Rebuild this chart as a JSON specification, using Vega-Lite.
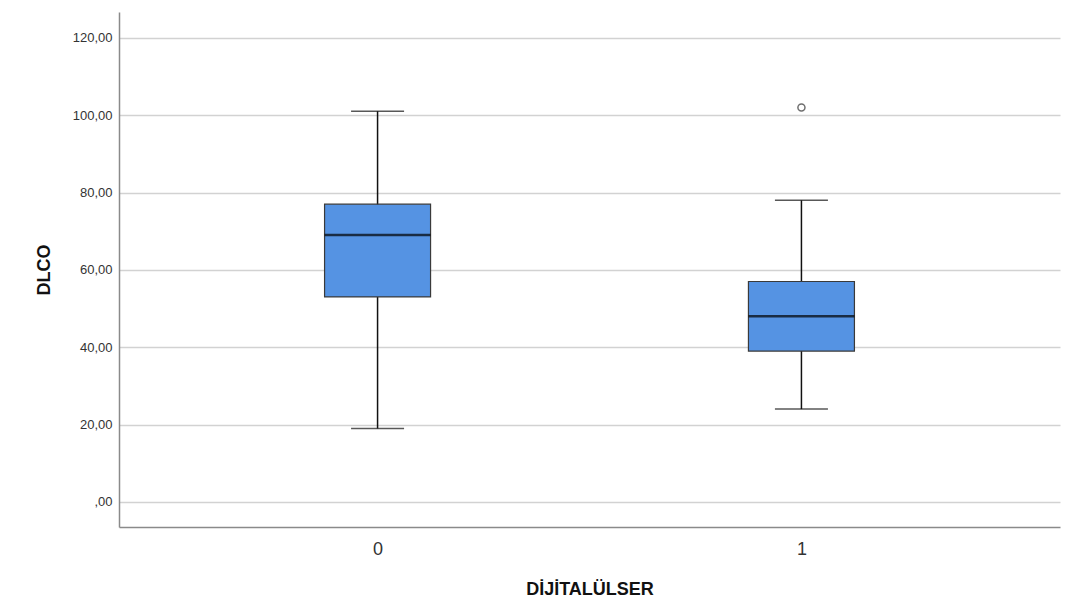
{
  "$schema": "https://vega.github.io/schema/vega-lite/v6.json",
  "width": 941,
  "height": 515,
  "autosize": {"type": "none"},
  "padding": {"left": 119, "top": 12, "right": 10, "bottom": 84},
  "background": "white",
  "config": {
    "view": {"stroke": null},
    "font": "Liberation Sans",
    "axis": {"domainColor": "#8a8a8a", "domainWidth": 1.5, "ticks": false, "tickSize": 0}
  },
  "datasets": {
    "stats": [
      {"DIJITALULSER": "0", "lower": 19, "q1": 53, "median": 69, "q3": 77, "upper": 101},
      {"DIJITALULSER": "1", "lower": 24, "q1": 39, "median": 48, "q3": 57, "upper": 78}
    ],
    "outliers": [
      {"DIJITALULSER": "1", "DLCO": 102}
    ]
  },
  "encoding": {
    "x": {
      "field": "DIJITALULSER",
      "type": "nominal",
      "scale": {"type": "point", "padding": 0.61, "domain": ["0", "1"]},
      "axis": {
        "title": "DİJİTALÜLSER",
        "labelAngle": 0,
        "labelFont": "Liberation Sans",
        "labelFontSize": 18,
        "labelColor": "#333333",
        "labelBaseline": "alphabetic",
        "labelPadding": 27,
        "titleFont": "Liberation Sans",
        "titleFontSize": 18,
        "titleFontWeight": "bold",
        "titleColor": "#111111",
        "titleBaseline": "alphabetic",
        "titleY": 67,
        "grid": false
      }
    }
  },
  "layer": [
    {
      "data": {"name": "stats"},
      "mark": {"type": "rule", "color": "#111111", "strokeWidth": 1.5},
      "encoding": {
        "y": {
          "field": "lower",
          "type": "quantitative",
          "scale": {"domain": [-6.5, 126.7], "nice": false, "zero": false},
          "axis": {
            "title": "DLCO",
            "values": [0, 20, 40, 60, 80, 100, 120],
            "labelExpr": "datum.value == 0 ? ',00' : replace(format(datum.value, '.2f'), '.', ',')",
            "labelFont": "Liberation Sans",
            "labelFontSize": 13,
            "labelColor": "#333333",
            "labelPadding": 7,
            "grid": true,
            "gridColor": "#d2d2d2",
            "gridWidth": 1.5,
            "titleFont": "Liberation Sans",
            "titleFontSize": 18,
            "titleFontWeight": "bold",
            "titleColor": "#111111",
            "titleBaseline": "alphabetic",
            "titleX": -70
          }
        },
        "y2": {"field": "upper"}
      }
    },
    {
      "data": {"name": "stats"},
      "mark": {"type": "bar", "size": 106, "fill": "#5593e3", "stroke": "#3a3a3a", "strokeWidth": 1.2},
      "encoding": {
        "y": {"field": "q1", "type": "quantitative"},
        "y2": {"field": "q3"}
      }
    },
    {
      "data": {"name": "stats"},
      "mark": {"type": "tick", "size": 106, "thickness": 2.5, "color": "#000000"},
      "encoding": {
        "y": {"field": "median", "type": "quantitative"}
      }
    },
    {
      "data": {"name": "stats"},
      "mark": {"type": "tick", "size": 53, "thickness": 1.5, "color": "#111111"},
      "encoding": {
        "y": {"field": "lower", "type": "quantitative"}
      }
    },
    {
      "data": {"name": "stats"},
      "mark": {"type": "tick", "size": 53, "thickness": 1.5, "color": "#111111"},
      "encoding": {
        "y": {"field": "upper", "type": "quantitative"}
      }
    },
    {
      "data": {"name": "outliers"},
      "mark": {"type": "point", "shape": "circle", "filled": false, "size": 50, "stroke": "#333333", "strokeWidth": 1.5},
      "encoding": {
        "y": {"field": "DLCO", "type": "quantitative"}
      }
    }
  ]
}
